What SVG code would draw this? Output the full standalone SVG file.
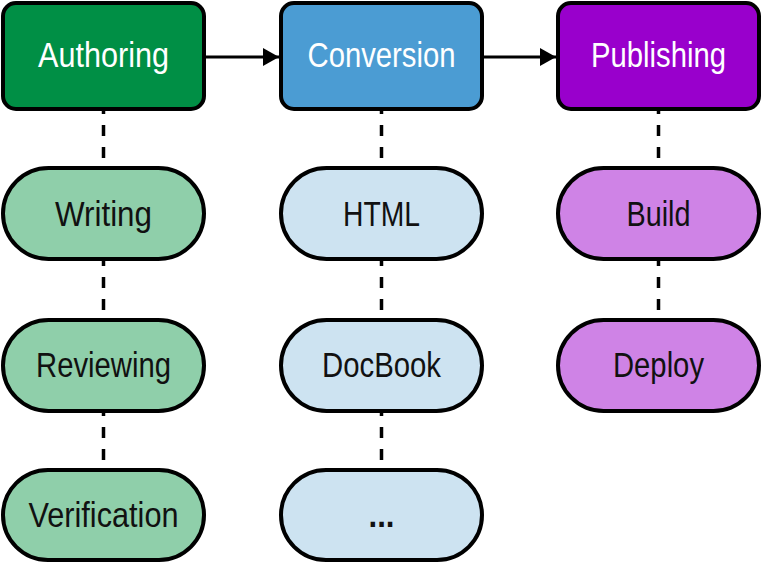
<svg xmlns="http://www.w3.org/2000/svg" width="762" height="563" viewBox="0 0 762 563">
<style>
.box{stroke:#000;stroke-width:4}
.t{font-family:"Liberation Sans",Arial,sans-serif;font-size:35px;text-anchor:middle}
.w{fill:#fff}
.k{fill:#111}
.dash{stroke:#000;stroke-width:3.5;stroke-dasharray:11,11;stroke-dashoffset:6;fill:none}
.arr{stroke:#000;stroke-width:3;fill:none}
</style>
<defs>
<marker id="ah" markerWidth="16" markerHeight="18" refX="16" refY="9" orient="auto" markerUnits="userSpaceOnUse" viewBox="0 0 16 18">
<path d="M0,0 L16,9 L0,18 z" fill="#000"/>
</marker>
</defs>
<g id="connectors">
<line class="arr" x1="205" y1="57" x2="279" y2="57" marker-end="url(#ah)"/>
<line class="arr" x1="483" y1="57" x2="556" y2="57" marker-end="url(#ah)"/>
<line class="dash" x1="103.5" y1="109" x2="103.5" y2="168"/>
<line class="dash" x1="103.5" y1="261" x2="103.5" y2="320"/>
<line class="dash" x1="103.5" y1="411" x2="103.5" y2="470"/>
<line class="dash" x1="381.5" y1="109" x2="381.5" y2="168"/>
<line class="dash" x1="381.5" y1="261" x2="381.5" y2="320"/>
<line class="dash" x1="381.5" y1="411" x2="381.5" y2="470"/>
<line class="dash" x1="658.5" y1="109" x2="658.5" y2="168"/>
<line class="dash" x1="658.5" y1="261" x2="658.5" y2="320"/>
</g>
<g id="authoring">
<rect class="box" x="3" y="3" width="201" height="106" rx="13" fill="#008f45"/>
<text class="t w" x="103.5" y="67" textLength="131" lengthAdjust="spacingAndGlyphs">Authoring</text>
</g>
<g id="conversion">
<rect class="box" x="281" y="3" width="201" height="106" rx="13" fill="#4b9cd3"/>
<text class="t w" x="381.5" y="67" textLength="148" lengthAdjust="spacingAndGlyphs">Conversion</text>
</g>
<g id="publishing">
<rect class="box" x="558" y="3" width="201" height="106" rx="13" fill="#9900cc"/>
<text class="t w" x="658.5" y="67" textLength="135" lengthAdjust="spacingAndGlyphs">Publishing</text>
</g>
<g id="writing">
<rect class="box" x="3" y="168" width="201" height="91" rx="45.5" fill="#8fcfaa"/>
<text class="t k" x="103.5" y="226" textLength="97" lengthAdjust="spacingAndGlyphs">Writing</text>
</g>
<g id="reviewing">
<rect class="box" x="3" y="320" width="201" height="91" rx="45.5" fill="#8fcfaa"/>
<text class="t k" x="103.5" y="377" textLength="135" lengthAdjust="spacingAndGlyphs">Reviewing</text>
</g>
<g id="verification">
<rect class="box" x="3" y="470" width="201" height="90" rx="45" fill="#8fcfaa"/>
<text class="t k" x="103.5" y="527" textLength="150" lengthAdjust="spacingAndGlyphs">Verification</text>
</g>
<g id="html">
<rect class="box" x="281" y="168" width="201" height="91" rx="45.5" fill="#cde3f1"/>
<text class="t k" x="381.5" y="226" textLength="77" lengthAdjust="spacingAndGlyphs">HTML</text>
</g>
<g id="docbook">
<rect class="box" x="281" y="320" width="201" height="91" rx="45.5" fill="#cde3f1"/>
<text class="t k" x="381.5" y="377" textLength="119" lengthAdjust="spacingAndGlyphs">DocBook</text>
</g>
<g id="more">
<rect class="box" x="281" y="470" width="201" height="90" rx="45" fill="#cde3f1"/>
<text class="t k" x="381.5" y="527" textLength="26" lengthAdjust="spacingAndGlyphs" font-weight="bold">...</text>
</g>
<g id="build">
<rect class="box" x="558" y="168" width="201" height="91" rx="45.5" fill="#cf83e6"/>
<text class="t k" x="658.5" y="226" textLength="64" lengthAdjust="spacingAndGlyphs">Build</text>
</g>
<g id="deploy">
<rect class="box" x="558" y="320" width="201" height="91" rx="45.5" fill="#cf83e6"/>
<text class="t k" x="658.5" y="377" textLength="91" lengthAdjust="spacingAndGlyphs">Deploy</text>
</g>
</svg>
